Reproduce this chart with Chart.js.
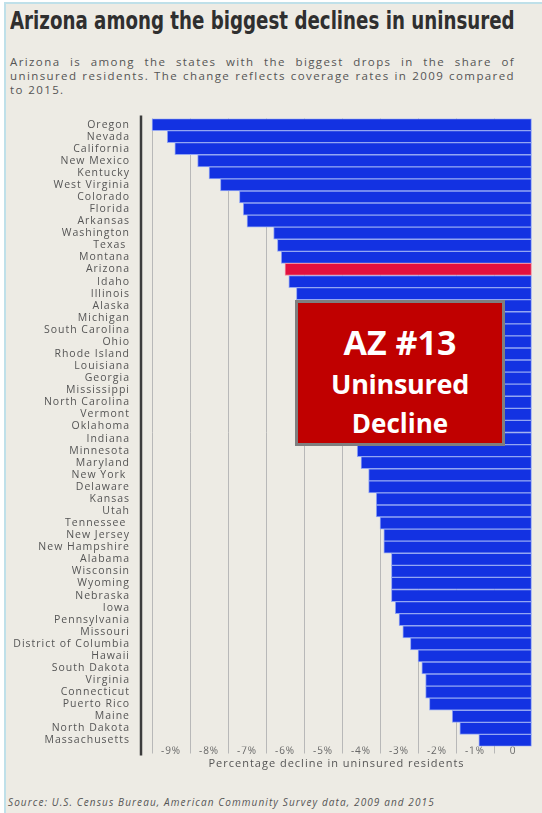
<!DOCTYPE html>
<html>
<head>
<meta charset="utf-8">
<script src="https://cdn.jsdelivr.net/npm/chart.js@4.4.1/dist/chart.umd.min.js"></script>
<style>
  html, body { margin: 0; padding: 0; background: #fff; }
  body { width: 542px; height: 813px; position: relative; overflow: hidden; font-family: "Open Sans", sans-serif; }
  #frame { position: absolute; left: 4px; top: 2px; right: 0; bottom: 0; background: #edebe4;
           border-left: 2px solid #bfe0e9; border-top: 2px solid #bfe0e9; }
  #title { position: absolute; left: 10px; top: 6px; white-space: nowrap; transform-origin: 0 0;
           font-family: "Liberation Sans Narrow", "DejaVu Sans Condensed", sans-serif;
           font-weight: bold; font-size: 25px; color: #2f2f2f; }
  #sub { position: absolute; left: 10px; top: 55px; width: 505px; font-size: 11.5px; line-height: 14px;
         color: #555; text-align: justify; letter-spacing: 1.4px; }
  #chartBox { position: absolute; left: 0; top: 100px; width: 542px; height: 680px; }
  #callout { position: absolute; left: 295px; top: 300px; width: 210px; height: 146px; box-sizing: border-box;
             background: #c00000; border: 3px solid #7f7f7f; color: #fff; font-weight: bold; }
  #callout div { position: absolute; left: 0; right: 0; text-align: center; line-height: 1; }
  #source { position: absolute; left: 8px; top: 795px; font-size: 10px; font-style: italic; color: #555;
            letter-spacing: 1.1px; white-space: nowrap; }
</style>
</head>
<body>
<div id="frame"></div>
<div id="title">Arizona among the biggest declines in uninsured</div>
<div id="sub">Arizona is among the states with the biggest drops in the share of uninsured residents. The change reflects coverage rates in 2009 compared to 2015.</div>
<div id="chartBox"><canvas id="chart"></canvas></div>
<div id="callout">
  <div style="top:22px;font-size:34px;">AZ #13</div>
  <div style="top:67px;font-size:27px;letter-spacing:-0.3px;">Uninsured</div>
  <div style="top:107px;font-size:26px;">Decline</div>
</div>
<div id="source">Source: U.S. Census Bureau, American Community Survey data, 2009 and 2015</div>
<script>
// states in the order they appear, top to bottom
const states = [
  'Oregon', 'Nevada', 'California', 'New Mexico', 'Kentucky', 'West Virginia', 'Colorado', 'Florida',
  'Arkansas', 'Washington', 'Texas ', 'Montana', 'Arizona', 'Idaho', 'Illinois', 'Alaska', 'Michigan',
  'South Carolina', 'Ohio', 'Rhode Island', 'Louisiana', 'Georgia', 'Mississippi', 'North Carolina',
  'Vermont', 'Oklahoma', 'Indiana', 'Minnesota', 'Maryland', 'New York ', 'Delaware', 'Kansas', 'Utah',
  'Tennessee ', 'New Jersey', 'New Hampshire', 'Alabama', 'Wisconsin', 'Wyoming', 'Nebraska', 'Iowa',
  'Pennsylvania', 'Missouri', 'District of Columbia', 'Hawaii', 'South Dakota', 'Virginia', 'Connecticut',
  'Puerto Rico', 'Maine', 'North Dakota', 'Massachusetts'
];

// change in uninsured share, percentage points (Alaska..Indiana sit behind the callout, estimated)
const declines = [
  -10.0, -9.6, -9.4, -8.8, -8.5, -8.2, -7.7, -7.6,
  -7.5, -6.8, -6.7, -6.6, -6.5, -6.4, -6.2, -6.1, -6.0,
  -5.9, -5.7, -5.6, -5.5, -5.3, -5.2, -5.1,
  -5.0, -4.8, -4.7, -4.6, -4.5, -4.3, -4.3, -4.1, -4.1,
  -4.0, -3.9, -3.9, -3.7, -3.7, -3.7, -3.7, -3.6,
  -3.5, -3.4, -3.2, -3.0, -2.9, -2.8, -2.8,
  -2.7, -2.1, -1.9, -1.4
];

const highlightState = 'Arizona';
const xMin = -10.29;
const xMax = 0;

// fit the headline to the width of the text block
const title = document.getElementById('title');
title.style.transform = 'scaleX(' + (505 / title.scrollWidth) + ')';

Chart.defaults.font.family = '"Open Sans", sans-serif';

// wide tracking like the print graphic, plus the left rule that runs past the plot
const spacedText = {
  id: 'spacedText',
  beforeDraw(chart) {
    chart.ctx.letterSpacing = '1px';
  },
  afterDraw(chart) {
    const { ctx, chartArea } = chart;
    ctx.save();
    ctx.strokeStyle = '#3c3c3c';
    ctx.lineWidth = 2.5;
    ctx.beginPath();
    ctx.moveTo(chartArea.left, chartArea.top - 3);
    ctx.lineTo(chartArea.left, chartArea.bottom + 9);
    ctx.stroke();
    ctx.restore();
  }
};

const barColors = states.map(s => s === highlightState ? '#e2103e' : '#1332e2');
const edgeColors = states.map(s => s === highlightState ? '#f28a9c' : '#93a6f3');

new Chart(document.getElementById('chart'), {
  type: 'bar',
  data: {
    labels: states,
    datasets: [{
      data: declines,
      backgroundColor: barColors,
      borderColor: edgeColors,
      borderWidth: 1,
      borderSkipped: false,
      barPercentage: 1,
      categoryPercentage: 1
    }]
  },
  options: {
    indexAxis: 'y',
    responsive: true,
    maintainAspectRatio: false,
    animation: false,
    events: [],
    layout: { padding: { top: 18.5, right: 10, bottom: 3.5, left: 0 } },
    plugins: {
      legend: { display: false },
      tooltip: { enabled: false }
    },
    scales: {
      x: {
        min: xMin,
        max: xMax,
        afterFit(scale) { scale.height = 30; },
        border: { display: false },
        grid: {
          color: ctx => ctx.tick && ctx.tick.value === 0 ? 'rgba(0,0,0,0)' : '#b8b8b8',
          lineWidth: 1,
          tickLength: 7
        },
        ticks: {
          stepSize: 1,
          includeBounds: false,
          autoSkip: false,
          maxRotation: 0,
          labelOffset: -19,
          padding: -8,
          color: '#666',
          font: { size: 10 },
          callback: v => v <= -10 ? '' : (v === 0 ? '0' : v + '%')
        },
        title: {
          display: true,
          text: 'Percentage decline in uninsured residents',
          color: '#555',
          font: { size: 11 },
          padding: { top: 0, bottom: 6 }
        }
      },
      y: {
        afterFit(scale) { scale.width = 141; },
        border: { display: false },
        grid: { display: false, drawTicks: false },
        ticks: {
          autoSkip: false,
          padding: 11,
          color: '#555',
          font: { size: 10.5 }
        }
      }
    }
  },
  plugins: [spacedText]
});
</script>
</body>
</html>
